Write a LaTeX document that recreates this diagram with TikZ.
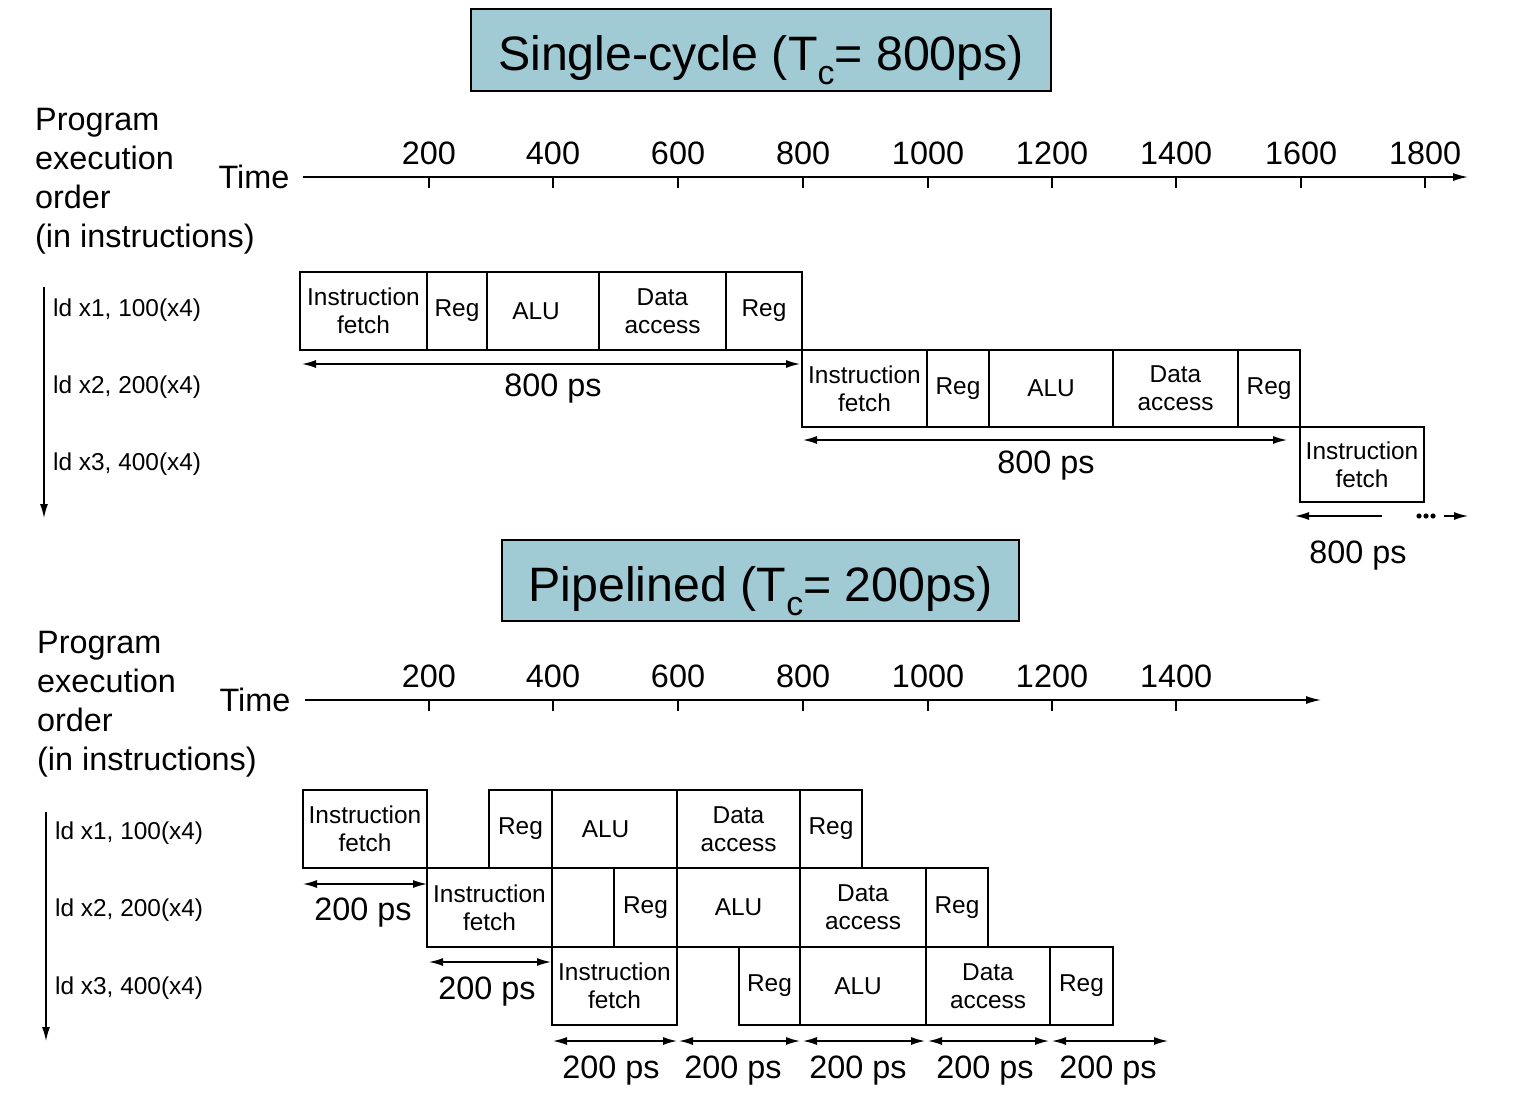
\documentclass[tikz,border=0pt]{standalone}
\usepackage{fontspec}
\setmainfont{Liberation Sans}
\usetikzlibrary{arrows.meta}
\definecolor{titlebg}{RGB}{160,202,212}
\newcommand{\tcsub}[1]{\raisebox{-0.3em}{\fontsize{34}{34}\selectfont #1}}
% stage box: name, x1, x2, y1, y2, text
\newcommand{\stg}[6]{\node[stage, minimum width={#3bp-#2bp}, minimum height={#5bp-#4bp}] (#1) at ({(#2+#3)/2},{(#4+#5)/2}) {#6};}
\begin{document}
\begin{tikzpicture}[x=1bp,y=-1bp,
  stage/.style={draw, line width=1.4bp, inner sep=0pt, outer sep=0pt, align=center, font=\fontsize{24.5}{28}\selectfont},
  big/.style={font=\fontsize{32.5}{39}\selectfont, inner sep=0pt, align=left},
  ilbl/.style={font=\fontsize{24.5}{28}\selectfont, anchor=west, inner sep=0pt},
  titlebox/.style={draw, fill=titlebg, line width=1.5bp, inner sep=0pt, text depth=0pt, font=\fontsize{48.5}{48}\selectfont},
  tip/.tip={Latex[length=14bp,width=8bp]},
  dim/.style={line width=1.4bp, tip-tip},
  rarr/.style={line width=1.4bp, -tip},
  larr/.style={line width=1.4bp, tip-},
  axis/.style={line width=1.4bp, -{Latex[length=15bp,width=8bp]}},
  tick/.style={line width=1.4bp}]
\useasboundingbox (0,0) rectangle (1535,1099);

% ================= Single-cycle =================
\node[titlebox, minimum width=580bp, minimum height=82bp, text height=40bp] (t1) at (761,50) {Single-cycle (T\tcsub{c}= 800ps)};

\node[big, anchor=west] (prog1) at (35,181) {Program\\execution\\order\\(in instructions)};
\node[big] (time1) at (254,177) {Time};

\coordinate (ax1s) at (303,177);
\coordinate (ax1e) at (1468,177);
\draw[axis] (ax1s) -- (ax1e);
\foreach \xx/\lab [count=\k] in {429/200,553/400,678/600,803/800,928/1000,1052/1200,1176/1400,1301/1600,1425/1800}{
  \coordinate (tk1a\k) at (\xx,177);
  \coordinate (tk1b\k) at (\xx,188);
  \draw[tick] (tk1a\k) -- (tk1b\k);
  \node[big] (tl1\k) at (\xx,153) {\lab};
}

\coordinate (v1s) at (44,287);
\coordinate (v1e) at (44,518);
\draw[rarr] (v1s) -- (v1e);
\node[ilbl] (i11) at (53,310) {ld x1, 100(x4)};
\node[ilbl] (i12) at (53,387) {ld x2, 200(x4)};
\node[ilbl] (i13) at (53,464) {ld x3, 400(x4)};

\stg{a1}{300}{427}{272}{350}{Instruction\\fetch}
\stg{a2}{427}{487}{272}{350}{Reg}
\stg{a3}{487}{599}{272}{350}{\hspace*{-14bp}ALU}
\stg{a4}{599}{726}{272}{350}{Data\\access}
\stg{a5}{726}{802}{272}{350}{Reg}

\stg{b1}{802}{927}{350}{427}{Instruction\\fetch}
\stg{b2}{927}{989}{350}{427}{Reg}
\stg{b3}{989}{1113}{350}{427}{ALU}
\stg{b4}{1113}{1238}{350}{427}{Data\\access}
\stg{b5}{1238}{1300}{350}{427}{Reg}

\stg{c1}{1300}{1424}{427}{502}{Instruction\\fetch}

\coordinate (d1a) at (302,364); \coordinate (d1b) at (800,364);
\draw[dim] (d1a) -- (d1b);
\node[big] (d1l) at (553,389) {800 ps};
\coordinate (d2a) at (803,440); \coordinate (d2b) at (1287,440);
\draw[dim] (d2a) -- (d2b);
\node[big] (d2l) at (1046,466) {800 ps};
\coordinate (d3a) at (1295,516); \coordinate (d3b) at (1382,516);
\draw[larr] (d3a) -- (d3b);
\foreach \xx in {1419,1426,1433}{\fill (\xx,516) circle (2.6bp);}
\coordinate (d3c) at (1444,516); \coordinate (d3d) at (1468,516);
\draw[rarr] (d3c) -- (d3d);
\node[big] (d3l) at (1358,556) {800 ps};

% ================= Pipelined =================
\node[titlebox, minimum width=517bp, minimum height=81bp, text height=41bp] (t2) at (760.5,580.5) {Pipelined (T\tcsub{c}= 200ps)};

\node[big, anchor=west] (prog2) at (37,704) {Program\\execution\\order\\(in instructions)};
\node[big] (time2) at (255,700) {Time};

\coordinate (ax2s) at (305,700);
\coordinate (ax2e) at (1321,700);
\draw[axis] (ax2s) -- (ax2e);
\foreach \xx/\lab [count=\k] in {429/200,553/400,678/600,803/800,928/1000,1052/1200,1176/1400}{
  \coordinate (tk2a\k) at (\xx,700);
  \coordinate (tk2b\k) at (\xx,711);
  \draw[tick] (tk2a\k) -- (tk2b\k);
  \node[big] (tl2\k) at (\xx,676) {\lab};
}

\coordinate (v2s) at (46,812);
\coordinate (v2e) at (46,1041);
\draw[rarr] (v2s) -- (v2e);
\node[ilbl] (i21) at (55,833) {ld x1, 100(x4)};
\node[ilbl] (i22) at (55,910) {ld x2, 200(x4)};
\node[ilbl] (i23) at (55,988) {ld x3, 400(x4)};

\stg{p1}{303}{427}{790}{868}{Instruction\\fetch}
\stg{p2}{489}{552}{790}{868}{Reg}
\stg{p3}{552}{677}{790}{868}{\hspace*{-18bp}ALU}
\stg{p4}{677}{800}{790}{868}{Data\\access}
\stg{p5}{800}{862}{790}{868}{Reg}

\stg{q1}{427}{552}{868}{947}{Instruction\\fetch}
\stg{q2}{614}{677}{868}{947}{Reg}
\stg{q3}{677}{800}{868}{947}{ALU}
\stg{q4}{800}{926}{868}{947}{Data\\access}
\stg{q5}{926}{988}{868}{947}{Reg}

\stg{s1}{552}{677}{947}{1025}{Instruction\\fetch}
\stg{s2}{739}{800}{947}{1025}{Reg}
\stg{s3}{800}{926}{947}{1025}{\hspace*{-10bp}ALU}
\stg{s4}{926}{1050}{947}{1025}{Data\\access}
\stg{s5}{1050}{1113}{947}{1025}{Reg}

\coordinate (e1a) at (303,884); \coordinate (e1b) at (427,884);
\draw[dim] (e1a) -- (e1b);
\node[big] (e1l) at (363,913) {200 ps};
\coordinate (e2a) at (429,962); \coordinate (e2b) at (551,962);
\draw[dim] (e2a) -- (e2b);
\node[big] (e2l) at (487,992) {200 ps};

\foreach \xa/\xb/\xl [count=\k] in {553/677/611,679/800/733,803/925/858,928/1049/985,1052/1168/1108}{
  \coordinate (f\k a) at (\xa,1041);
  \coordinate (f\k b) at (\xb,1041);
  \draw[dim] (f\k a) -- (f\k b);
  \node[big] (f\k l) at (\xl,1071) {200 ps};
}
\end{tikzpicture}
\end{document}
